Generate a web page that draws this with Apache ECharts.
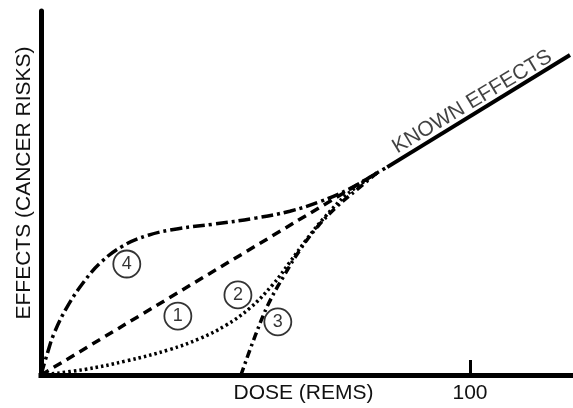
<!DOCTYPE html>
<html>
<head>
<meta charset="utf-8">
<script src="https://cdn.jsdelivr.net/npm/echarts@6/dist/echarts.min.js"></script>
<style>
    html, body { margin: 0; padding: 0; background: #fff; }
    #chart { width: 573px; height: 408px; }
</style>
</head>
<body>
<div id="chart"></div>
<script>
    // dose (x) vs effect (y), arbitrary units; 100 marked on dose axis
    const knownEffects = [[80.7, 57.1], [123.3, 87.9]];
    const linear1 = [[0, 0], [78.3, 55.5]];
    const quadratic2 = [
        [0, 0], [10, 1.5], [20, 3.9], [30, 7.0], [37, 10.0], [43, 13.6], [48.7, 18.4],
        [54, 24.8], [58, 31.0], [62, 37.4], [66, 43.2], [71.3, 49.6], [78.3, 55.5]
    ];
    const threshold3 = [
        [46.6, 0], [50, 11], [53, 19.5], [56.5, 27], [60.5, 34.6],
        [64.5, 40.8], [69, 46.3], [73.7, 51.0], [78.3, 55.5]
    ];
    const supra4 = [
        [0, 0], [1.5, 6], [3, 11.3], [6, 18.5], [10, 25.6], [14, 31], [19, 35.4],
        [25, 38.4], [32, 40.2], [40, 41.4], [50, 43.1], [58, 45.0], [65, 47.6],
        [72, 51.2], [78.3, 55.5], [80.7, 57.1]
    ];
    const markers = [[20.0, 30.5, '4'], [31.9, 16.2, '1'], [45.9, 22.0, '2'], [55.2, 14.6, '3']];
    const knownText = [[100.5, 75.0, 'KNOWN EFFECTS']];

    const font = 'Liberation Sans, Arial, sans-serif';
    const chart = echarts.init(document.getElementById('chart'));

    function curve(data, type, width) {
        return {
            type: 'line',
            data: data,
            symbol: 'none',
            smooth: 0.4,
            lineStyle: {color: '#000', width: width, type: type},
            z: 3
        };
    }

    chart.setOption({
        animation: false,
        grid: {left: 41, right: 0, top: 11, bottom: 33, outerBoundsMode: 'none'},
        xAxis: {
            type: 'value',
            min: 0,
            max: 124,
            name: 'DOSE (REMS)',
            nameLocation: 'middle',
            nameGap: 8,
            nameMoveOverlap: false,
            nameTextStyle: {color: '#111', fontSize: 21, fontFamily: font, padding: [0, 7, 0, 0]},
            axisLine: {show: true, lineStyle: {color: '#000', width: 5, cap: 'square'}},
            axisTick: {show: true, inside: true, length: 15, customValues: [100], lineStyle: {color: '#000', width: 3}},
            axisLabel: {customValues: [100], color: '#111', fontSize: 21, fontFamily: font, margin: 8},
            splitLine: {show: false}
        },
        yAxis: {
            type: 'value',
            min: 0,
            max: 100,
            axisLine: {show: true, lineStyle: {color: '#000', width: 5}},
            axisTick: {show: false},
            axisLabel: {show: false},
            splitLine: {show: false}
        },
        graphic: [{
            type: 'text',
            x: 24,
            y: 183,
            rotation: Math.PI / 2,
            style: {
                text: 'EFFECTS (CANCER RISKS)',
                align: 'center',
                verticalAlign: 'middle',
                font: '21px ' + font,
                fill: '#111'
            }
        }],
        series: [
            curve(knownEffects, 'solid', 4),
            curve(linear1, [9, 6], 3.5),
            curve(quadratic2, [2.5, 3], 3.5),
            curve(threshold3, [8, 4, 2.5, 4], 3.5),
            curve(supra4, [12, 4, 3, 4], 3.5),
            {
                type: 'scatter',
                data: markers,
                symbol: 'circle',
                symbolSize: 27,
                itemStyle: {color: '#fff', borderColor: '#000', borderWidth: 1.8},
                label: {
                    show: true,
                    position: 'inside',
                    formatter: p => p.value[2],
                    color: '#000',
                    fontSize: 18,
                    fontFamily: font
                },
                z: 5
            },
            {
                type: 'scatter',
                data: knownText,
                symbolSize: 0,
                label: {
                    show: true,
                    position: 'inside',
                    rotate: 31,
                    formatter: p => p.value[2],
                    color: '#111',
                    fontSize: 21,
                    fontFamily: font
                },
                z: 5
            }
        ]
    });
</script>
</body>
</html>
